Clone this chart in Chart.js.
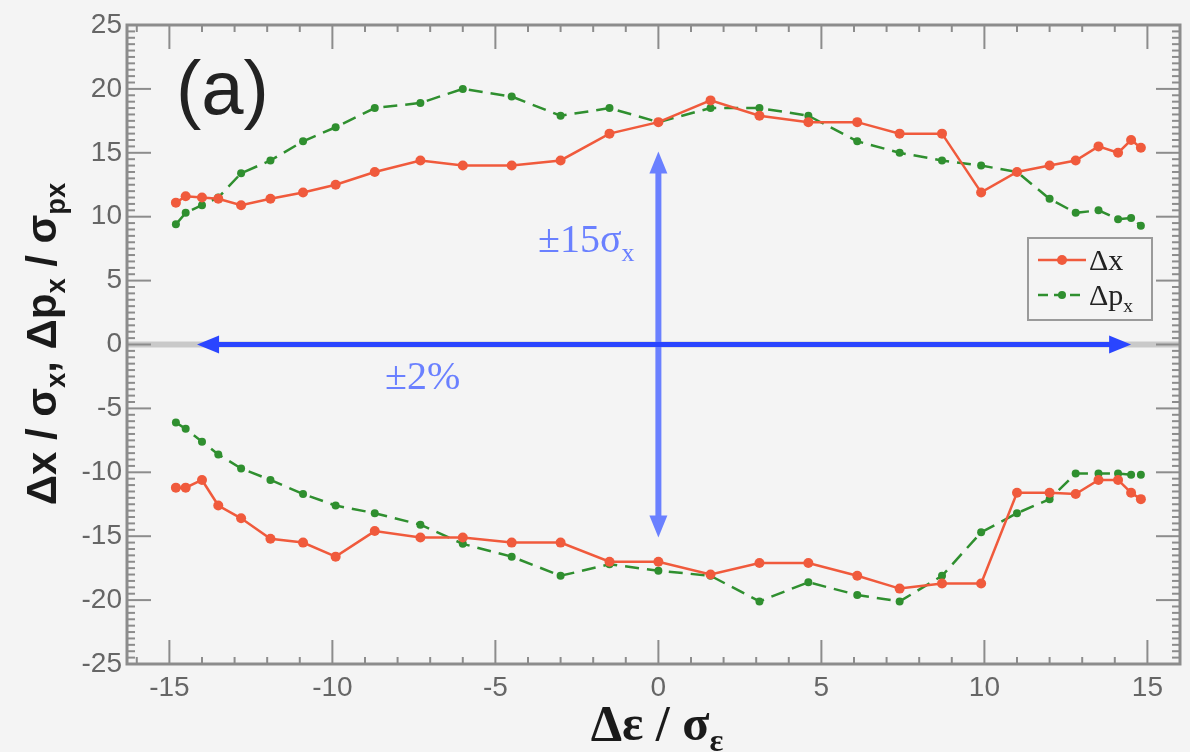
<!DOCTYPE html>
<html>
<head>
<meta charset="utf-8">
<script src="https://cdn.jsdelivr.net/npm/chart.js@4"></script>
<style>
  html, body { margin: 0; padding: 0; background: #f4f4f4; }
</style>
</head>
<body>
<canvas id="myChart" width="1190" height="752"></canvas>
<script>
// energy offset grid (Δε / σε)
const epsilon = [-14.8, -14.5, -14.0, -13.5, -12.8, -11.9, -10.9, -9.9, -8.7, -7.3, -6.0, -4.5, -3.0, -1.5,
                 0, 1.6, 3.1, 4.6, 6.1, 7.4, 8.7, 9.9, 11.0, 12.0, 12.8, 13.5, 14.1, 14.5, 14.8];

// Δx / σx  (upper and lower limits)
const dxUpper = [11.1, 11.6, 11.5, 11.4, 10.9, 11.4, 11.9, 12.5, 13.5, 14.4, 14.0, 14.0, 14.4, 16.5,
                 17.4, 19.1, 17.9, 17.4, 17.4, 16.5, 16.5, 11.9, 13.5, 14.0, 14.4, 15.5, 15.0, 16.0, 15.4];
const dxLower = [-11.2, -11.2, -10.6, -12.6, -13.6, -15.2, -15.5, -16.6, -14.6, -15.1, -15.1, -15.5, -15.5, -17.0,
                 -17.0, -18.0, -17.1, -17.1, -18.1, -19.1, -18.7, -18.7, -11.6, -11.6, -11.7, -10.6, -10.6, -11.6, -12.1];

// Δpx / σpx (upper and lower limits)
const dpUpper = [9.4, 10.3, 10.9, 11.5, 13.4, 14.4, 15.9, 17.0, 18.5, 18.9, 20.0, 19.4, 17.9, 18.5,
                 17.4, 18.5, 18.5, 17.9, 15.9, 15.0, 14.4, 14.0, 13.5, 11.4, 10.3, 10.5, 9.8, 9.9, 9.3];
const dpLower = [-6.1, -6.6, -7.6, -8.6, -9.7, -10.6, -11.7, -12.6, -13.2, -14.1, -15.6, -16.6, -18.1, -17.2,
                 -17.7, -18.1, -20.1, -18.6, -19.6, -20.1, -18.1, -14.7, -13.2, -12.1, -10.1, -10.1, -10.1, -10.2, -10.2];

const xTicks = [-15, -10, -5, 0, 5, 10, 15];
const yTicks = [-25, -20, -15, -10, -5, 0, 5, 10, 15, 20, 25];

// acceptance arrows: ±2% in energy, ±15σx in position
const arrowEps = [-14.15, 14.5];
const arrowSig = [-15.1, 15.1];

const RED = '#f05a3c';
const GREEN = '#2f8f2f';
const BLUE = '#2a45ff';
const BLUE_LIGHT = '#6a80ff';

const toPts = (xs, ys) => xs.map((v, i) => ({ x: v, y: ys[i] }));

// text with subscripts: parts = [[text, isSub], ...]
function richWidth(ctx, parts, size, family, weight) {
  let w = 0;
  parts.forEach(([t, sub]) => {
    ctx.font = weight + ' ' + (sub ? size * 0.65 : size) + 'px ' + family;
    w += ctx.measureText(t).width;
  });
  return w;
}
function drawRich(ctx, parts, x, y, size, family, weight, color) {
  ctx.fillStyle = color;
  ctx.textBaseline = 'alphabetic';
  ctx.textAlign = 'left';
  parts.forEach(([t, sub]) => {
    ctx.font = weight + ' ' + (sub ? size * 0.65 : size) + 'px ' + family;
    ctx.fillText(t, x, sub ? y + size * 0.22 : y);
    x += ctx.measureText(t).width;
  });
}

function arrowHead(ctx, x, y, dx, dy, len, half) {
  ctx.beginPath();
  ctx.moveTo(x, y);
  ctx.lineTo(x - dx * len - dy * half, y - dy * len + dx * half);
  ctx.lineTo(x - dx * len + dy * half, y - dy * len - dx * half);
  ctx.closePath();
  ctx.fill();
}

const background = {
  id: 'background',
  beforeDraw(chart) {
    const c = chart.ctx;
    c.save();
    c.fillStyle = '#f4f4f4';
    c.fillRect(0, 0, chart.width, chart.height);
    c.restore();
  }
};

// zero line, arrows and annotations under the data
const annotations = {
  id: 'annotations',
  beforeDatasetsDraw(chart) {
    const { ctx: c, chartArea: a, scales: { x, y } } = chart;
    c.save();
    const y0 = y.getPixelForValue(0);
    const x0 = x.getPixelForValue(0);
    c.strokeStyle = '#c9c9c9';
    c.lineWidth = 6;
    c.beginPath(); c.moveTo(a.left, y0); c.lineTo(a.right, y0); c.stroke();

    // vertical ±15σx arrow
    const yt = y.getPixelForValue(arrowSig[1]), yb = y.getPixelForValue(arrowSig[0]);
    c.strokeStyle = BLUE_LIGHT; c.fillStyle = BLUE_LIGHT; c.lineWidth = 6;
    c.beginPath(); c.moveTo(x0, yt + 18); c.lineTo(x0, yb - 18); c.stroke();
    arrowHead(c, x0, yt, 0, -1, 22, 9);
    arrowHead(c, x0, yb, 0, 1, 22, 9);

    // horizontal ±2% arrow
    const xl = x.getPixelForValue(arrowEps[0]), xr = x.getPixelForValue(arrowEps[1]);
    c.strokeStyle = BLUE; c.fillStyle = BLUE; c.lineWidth = 5;
    c.beginPath(); c.moveTo(xl + 18, y0); c.lineTo(xr - 18, y0); c.stroke();
    arrowHead(c, xl, y0, -1, 0, 22, 9);
    arrowHead(c, xr, y0, 1, 0, 22, 9);

    const serif = '"Liberation Serif", "DejaVu Serif", serif';
    drawRich(c, [['±15σ', false], ['x', true]], 538, 252, 40, serif, 'normal', BLUE_LIGHT);
    drawRich(c, [['±2%', false]], 385, 389, 40, serif, 'normal', BLUE_LIGHT);

    c.font = 'normal 76px "Liberation Sans", Arial, sans-serif';
    c.fillStyle = '#222';
    c.textAlign = 'left';
    c.textBaseline = 'alphabetic';
    c.fillText('(a)', 176, 114);
    c.restore();
  }
};

// frame with inward ticks, axis titles and legend
const frame = {
  id: 'frame',
  afterDraw(chart) {
    const { ctx: c, chartArea: a, scales: { x, y } } = chart;
    c.save();
    c.strokeStyle = '#8c8c8c';
    c.lineWidth = 2;
    const seg = (x1, y1, x2, y2) => { c.beginPath(); c.moveTo(x1, y1); c.lineTo(x2, y2); c.stroke(); };
    for (let v = Math.ceil(x.min); v <= x.max; v++) {
      const px = x.getPixelForValue(v);
      const len = v % 5 === 0 ? 24 : 7;
      seg(px, a.bottom, px, a.bottom - len);
      seg(px, a.top, px, a.top + len);
    }
    for (let v = y.min; v <= y.max; v += 0.5) {
      const py = y.getPixelForValue(v);
      const len = v % 5 === 0 ? 24 : 8;
      seg(a.left, py, a.left + len, py);
      seg(a.right, py, a.right - len, py);
    }
    c.lineWidth = 3;
    c.strokeRect(a.left, a.top, a.right - a.left, a.bottom - a.top);

    // y title
    const sans = '"Liberation Sans", Arial, sans-serif';
    const yParts = [['Δx / σ', false], ['x', true], [', Δp', false], ['x', true], [' / σ', false], ['px', true]];
    c.save();
    c.translate(56, 344);
    c.rotate(-Math.PI / 2);
    const wy = richWidth(c, yParts, 42, sans, 'bold');
    drawRich(c, yParts, -wy / 2, 0, 42, sans, 'bold', '#1a1a1a');
    c.restore();

    // x title
    const serif = '"Liberation Serif", "DejaVu Serif", serif';
    const xParts = [['Δε / σ', false], ['ε', true]];
    const wx = richWidth(c, xParts, 50, serif, 'bold');
    drawRich(c, xParts, 657 - wx / 2, 740, 50, serif, 'bold', '#1a1a1a');

    // legend
    const lx = 1028, ly = 238, lw = 124, lh = 82;
    c.fillStyle = '#f4f4f4';
    c.fillRect(lx, ly, lw, lh);
    c.strokeStyle = '#9a9a9a';
    c.lineWidth = 2;
    c.strokeRect(lx, ly, lw, lh);
    const entries = [
      { color: RED, dash: [], r: 5, parts: [['Δx', false]], yy: 260 },
      { color: GREEN, dash: [10, 6], r: 4, parts: [['Δp', false], ['x', true]], yy: 295 }
    ];
    entries.forEach(e => {
      c.strokeStyle = e.color; c.fillStyle = e.color; c.lineWidth = 2.5;
      c.setLineDash(e.dash);
      seg(lx + 10, e.yy, lx + 58, e.yy);
      c.setLineDash([]);
      c.beginPath(); c.arc(lx + 34, e.yy, e.r, 0, Math.PI * 2); c.fill();
      drawRich(c, e.parts, lx + 61, e.yy + 10, 30, serif, 'normal', '#222');
    });
    c.restore();
  }
};

const ctx = document.getElementById('myChart').getContext('2d');
const lineStyle = (color, dash, r) => ({
  borderColor: color, backgroundColor: color, borderWidth: 2.5, borderDash: dash,
  pointRadius: r, pointBorderWidth: 0, pointHoverRadius: r, tension: 0, fill: false
});
const myChart = new Chart(ctx, {
  type: 'line',
  data: {
    datasets: [
      { label: 'Δx', data: toPts(epsilon, dxUpper), ...lineStyle(RED, [], 5) },
      { label: 'Δx (lower)', data: toPts(epsilon, dxLower), ...lineStyle(RED, [], 5) },
      { label: 'Δpx', data: toPts(epsilon, dpUpper), ...lineStyle(GREEN, [14, 8], 4) },
      { label: 'Δpx (lower)', data: toPts(epsilon, dpLower), ...lineStyle(GREEN, [14, 8], 4) }
    ]
  },
  options: {
    responsive: false,
    animation: false,
    devicePixelRatio: 1,
    layout: { padding: { top: 25, right: 10, left: 0, bottom: 0 } },
    scales: {
      x: {
        type: 'linear', min: -16.3, max: 16,
        afterBuildTicks: s => { s.ticks = xTicks.map(v => ({ value: v })); },
        afterFit: s => { s.height = 88; },
        grid: { display: false, drawTicks: false },
        border: { display: false },
        ticks: { padding: 7, color: '#666', font: { family: '"Liberation Sans", Arial, sans-serif', size: 28 } }
      },
      y: {
        type: 'linear', min: -25, max: 25,
        afterBuildTicks: s => { s.ticks = yTicks.map(v => ({ value: v })); },
        afterFit: s => { s.width = 127; },
        grid: { display: false, drawTicks: false },
        border: { display: false },
        ticks: { padding: 5, color: '#666', font: { family: '"Liberation Sans", Arial, sans-serif', size: 28 } }
      }
    },
    plugins: {
      legend: { display: false },
      tooltip: { enabled: false }
    }
  },
  plugins: [background, annotations, frame]
});
</script>
</body>
</html>
